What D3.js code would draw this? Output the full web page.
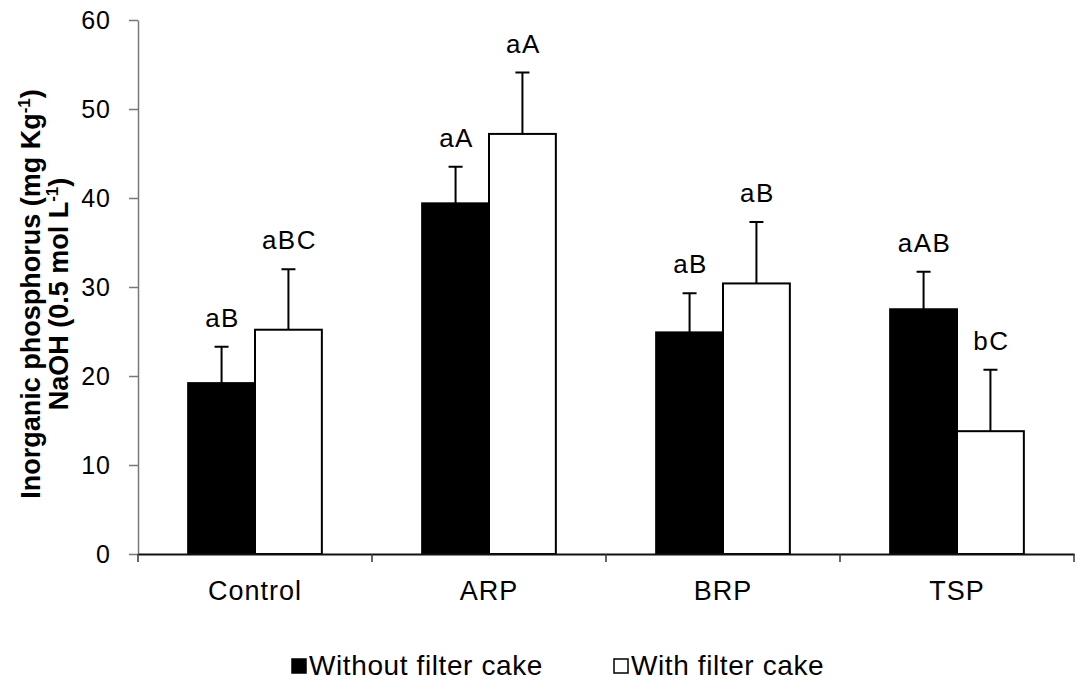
<!DOCTYPE html>
<html>
<head>
<meta charset="utf-8">
<script src="https://cdn.jsdelivr.net/npm/d3@7"></script>
<style>
  body { margin: 0; background: #fff; }
  text { font-family: Arial, "Liberation Sans", sans-serif; fill: #000; }
</style>
</head>
<body>
<svg id="chart" width="1084" height="682"></svg>
<script>
// data
const categories = ["Control", "ARP", "BRP", "TSP"];
const series = ["Without filter cake", "With filter cake"];
const withoutCake = [19.2, 39.4, 24.9, 27.5];
const withCake = [25.2, 47.2, 30.4, 13.8];
const withoutErr = [4.1, 4.1, 4.4, 4.2];
const withErr = [6.8, 6.9, 6.9, 6.9];
const withoutLetters = ["aB", "aA", "aB", "aAB"];
const withLetters = ["aBC", "aA", "aB", "bC"];
const yTicks = [0, 10, 20, 30, 40, 50, 60];

const rows = categories.map((c, i) => ({
  cat: c,
  bars: [
    { s: series[0], v: withoutCake[i], e: withoutErr[i], lab: withoutLetters[i] },
    { s: series[1], v: withCake[i], e: withErr[i], lab: withLetters[i] }
  ]
}));

const svg = d3.select("#chart");
const plotLeft = 138, plotRight = 1074, plotTop = 20, plotBottom = 554;

const x = d3.scaleBand().domain(categories).range([plotLeft, plotRight]).paddingInner(0).paddingOuter(0);
const x1 = d3.scaleBand().domain(series).range([0, x.bandwidth()]).paddingInner(0).paddingOuter(0.75);
const y = d3.scaleLinear().domain([0, 60]).range([plotBottom, plotTop]);
const fills = d3.scaleOrdinal().domain(series).range(["#000", "#fff"]);

// y axis
const yAxis = svg.append("g")
  .attr("transform", `translate(${plotLeft},0)`)
  .call(d3.axisLeft(y).tickValues(yTicks).tickSize(9).tickSizeOuter(0).tickPadding(18));
yAxis.select(".domain").attr("stroke", "#777").attr("stroke-width", 1.5);
yAxis.selectAll(".tick line").attr("stroke", "#777").attr("stroke-width", 1.5);
yAxis.selectAll(".tick text")
  .style("font-size", "25px").style("letter-spacing", "1px")
  .attr("font-family", null);

// bars
const groups = svg.append("g").selectAll("g")
  .data(rows).join("g")
  .attr("transform", d => `translate(${x(d.cat)},0)`);

groups.selectAll("rect")
  .data(d => d.bars).join("rect")
  .attr("x", d => x1(d.s))
  .attr("y", d => y(d.v))
  .attr("width", x1.bandwidth())
  .attr("height", d => y(0) - y(d.v))
  .attr("fill", d => fills(d.s))
  .attr("stroke", "#000")
  .attr("stroke-width", 2);

// error bars
groups.selectAll("path.err")
  .data(d => d.bars).join("path")
  .attr("class", "err")
  .attr("fill", "none").attr("stroke", "#000").attr("stroke-width", 2)
  .attr("d", d => {
    const cx = x1(d.s) + x1.bandwidth() / 2;
    const y1 = y(d.v), y2 = y(d.v + d.e);
    return `M${cx},${y1}V${y2}M${cx - 7},${y2}H${cx + 7}`;
  });

// significance letters
groups.selectAll("text.lab")
  .data(d => d.bars).join("text")
  .attr("class", "lab")
  .attr("x", d => x1(d.s) + x1.bandwidth() / 2 + 1)
  .attr("y", d => y(d.v + d.e) - 20)
  .attr("text-anchor", "middle")
  .style("font-size", "26px").style("letter-spacing", "1.5px")
  .text(d => d.lab);

// x axis
const xAxis = svg.append("g")
  .attr("transform", `translate(0,${plotBottom})`)
  .call(d3.axisBottom(x).tickSize(0).tickPadding(27));
xAxis.select(".domain").attr("stroke", "#111").attr("stroke-width", 2);
xAxis.selectAll(".tick text")
  .style("font-size", "27px").style("letter-spacing", "1px")
  .attr("font-family", null);

const bounds = categories.map(c => x(c)).concat([x.range()[1]]);
svg.append("g").selectAll("line")
  .data(bounds).join("line")
  .attr("x1", d => d).attr("x2", d => d)
  .attr("y1", plotBottom).attr("y2", plotBottom + 8)
  .attr("stroke", "#333").attr("stroke-width", 1.5);

// y axis title
const title = svg.append("text")
  .attr("transform", "translate(0,294) rotate(-90)")
  .attr("text-anchor", "middle")
  .style("font-size", "27px").style("font-weight", "bold");
const l1 = title.append("tspan").attr("x", 0).attr("y", 40);
l1.append("tspan").text("Inorganic phosphorus (mg Kg");
l1.append("tspan").attr("dy", -10).style("font-size", "17px").text("-1");
l1.append("tspan").attr("dy", 10).text(")");
const l2 = title.append("tspan").attr("x", 0).attr("y", 68);
l2.append("tspan").text("NaOH (0.5 mol L");
l2.append("tspan").attr("dy", -10).style("font-size", "17px").text("-1");
l2.append("tspan").attr("dy", 10).text(")");

// legend
const legendX = [292, 614];
const legend = svg.append("g").selectAll("g")
  .data(series).join("g")
  .attr("transform", (d, i) => `translate(${legendX[i]},659)`);
legend.append("rect")
  .attr("width", 14).attr("height", 14)
  .attr("fill", d => fills(d)).attr("stroke", "#000").attr("stroke-width", 1.5);
legend.append("text")
  .attr("x", 17).attr("y", 16)
  .style("font-size", "28px").style("letter-spacing", "0.6px")
  .text(d => d);
</script>
</body>
</html>
